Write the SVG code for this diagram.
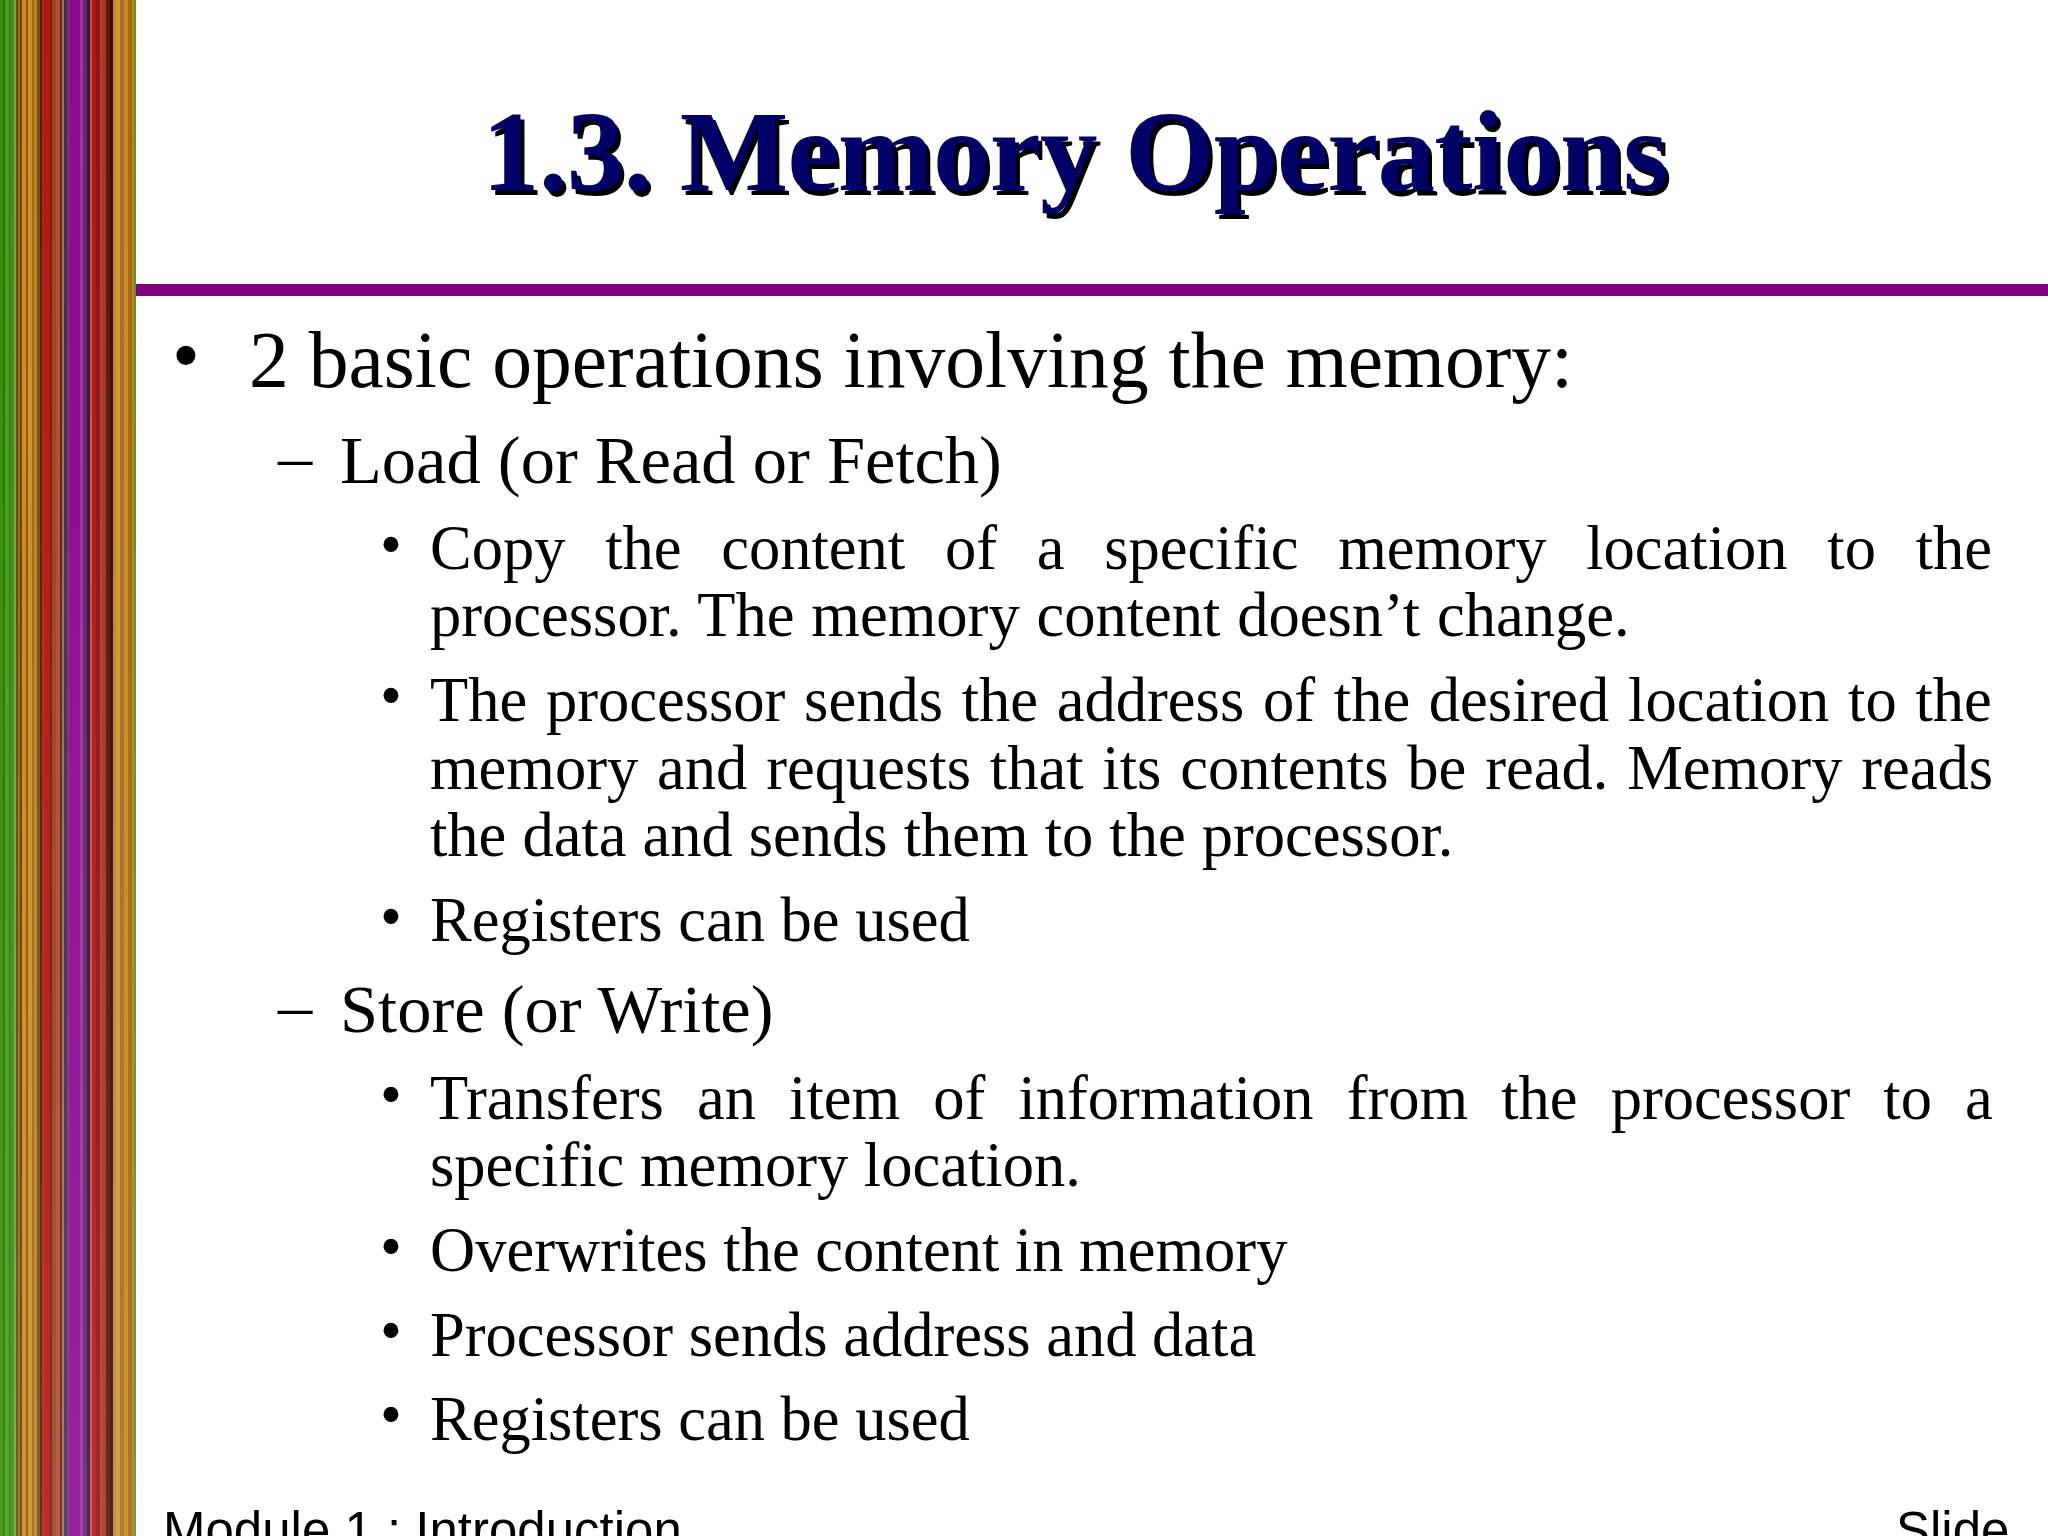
<svg xmlns="http://www.w3.org/2000/svg" width="2048" height="1536" viewBox="0 0 2048 1536">
<style>
text{font-family:"Liberation Serif","Times New Roman",serif;fill:#000}
.t{font-size:115px;font-weight:bold}
.l1{font-size:79.6px}.l2{font-size:68.5px}.l3{font-size:62.5px}
.f{font-family:"Liberation Sans",Arial,sans-serif;font-size:51px}
</style>
<defs>
<linearGradient id="fade" x1="0" x2="0" y1="0" y2="1"><stop offset="0" stop-color="#fff" stop-opacity="0"/><stop offset=".35" stop-color="#fff" stop-opacity=".02"/><stop offset="1" stop-color="#fff" stop-opacity=".09"/></linearGradient>
<filter id="soft" x="-5%" y="0" width="110%" height="100%"><feGaussianBlur stdDeviation=".6 0"/></filter>
<clipPath id="stripclip"><rect width="136" height="1536"/></clipPath>
</defs>
<rect width="2048" height="1536" fill="#fff"/>
<g id="strip-band" clip-path="url(#stripclip)">
<g filter="url(#soft)">
<rect x="-4" width="7" height="1536" fill="#3a8c10"/><rect x="3" width="2" height="1536" fill="#2f7010"/><rect x="5" width="4" height="1536" fill="#4aa018"/><rect x="9" width="1" height="1536" fill="#2a6a10"/><rect x="10" width="4" height="1536" fill="#3d8f18"/><rect x="14" width="2" height="1536" fill="#7aa040"/><rect x="16" width="2" height="1536" fill="#4a5a10"/><rect x="18" width="2" height="1536" fill="#a06a18"/><rect x="20" width="2" height="1536" fill="#6a3a10"/><rect x="22" width="4" height="1536" fill="#d08a20"/><rect x="26" width="2" height="1536" fill="#8a5a10"/><rect x="28" width="4" height="1536" fill="#d09028"/><rect x="32" width="2" height="1536" fill="#a06a18"/><rect x="34" width="3" height="1536" fill="#c08020"/><rect x="37" width="3" height="1536" fill="#804a20"/><rect x="40" width="2" height="1536" fill="#4a2010"/><rect x="42" width="2" height="1536" fill="#a03010"/><rect x="44" width="6" height="1536" fill="#b81414"/><rect x="50" width="2" height="1536" fill="#702010"/><rect x="52" width="4" height="1536" fill="#a04028"/><rect x="56" width="4" height="1536" fill="#b05030"/><rect x="60" width="2" height="1536" fill="#602818"/><rect x="62" width="2" height="1536" fill="#a07060"/><rect x="64" width="3" height="1536" fill="#502a50"/><rect x="67" width="3" height="1536" fill="#7a2a8a"/><rect x="70" width="10" height="1536" fill="#8a1090"/><rect x="80" width="3" height="1536" fill="#9a30a0"/><rect x="83" width="4" height="1536" fill="#5a2a70"/><rect x="87" width="3" height="1536" fill="#401040"/><rect x="90" width="2" height="1536" fill="#b06050"/><rect x="92" width="4" height="1536" fill="#b81818"/><rect x="96" width="4" height="1536" fill="#901818"/><rect x="100" width="2" height="1536" fill="#b83a30"/><rect x="102" width="4" height="1536" fill="#a03828"/><rect x="106" width="4" height="1536" fill="#601810"/><rect x="110" width="3" height="1536" fill="#3a1008"/><rect x="113" width="3" height="1536" fill="#c08a28"/><rect x="116" width="4" height="1536" fill="#d09a30"/><rect x="120" width="4" height="1536" fill="#a87020"/><rect x="124" width="4" height="1536" fill="#c88a20"/><rect x="128" width="4" height="1536" fill="#a06a18"/><rect x="132" width="2" height="1536" fill="#c08020"/><rect x="134" width="6" height="1536" fill="#5a9a18"/>
</g>
<rect width="136" height="1536" fill="url(#fade)"/>
</g>
<rect id="rule" x="136" y="284" width="1912" height="12" fill="#800080"/>
<g id="title">
<text class="t" x="486" y="195" textLength="1186">1.3. Memory Operations</text>
<text class="t" x="482" y="190" textLength="1186" style="fill:#000066">1.3. Memory Operations</text>
</g>
<g id="body">
<text class="l1" x="172" y="382">•</text><text class="l1" x="249" y="387">2 basic operations involving the memory:</text>
<text class="l2" x="278" y="479">–</text><text class="l2" x="340" y="483">Load (or Read or Fetch)</text>
<text class="l3" x="380" y="565">•</text><text class="l3" x="430" y="569" word-spacing="24.1">Copy the content of a specific memory location to the</text>
<text class="l3" x="430" y="636" word-spacing="1.2">processor. The memory content doesn’t change.</text>
<text class="l3" x="380" y="716">•</text><text class="l3" x="430" y="721" word-spacing="3.1">The processor sends the address of the desired location to the</text>
<text class="l3" x="430" y="789" word-spacing="3.2">memory and requests that its contents be read. Memory reads</text>
<text class="l3" x="430" y="856" word-spacing=".4">the data and sends them to the processor.</text>
<text class="l3" x="380" y="937">•</text><text class="l3" x="430" y="941">Registers can be used</text>
<text class="l2" x="278" y="1028">–</text><text class="l2" x="340" y="1032">Store (or Write)</text>
<text class="l3" x="380" y="1115">•</text><text class="l3" x="430" y="1119" word-spacing="17.5">Transfers an item of information from the processor to a</text>
<text class="l3" x="430" y="1186">specific memory location.</text>
<text class="l3" x="380" y="1267">•</text><text class="l3" x="430" y="1271">Overwrites the content in memory</text>
<text class="l3" x="380" y="1351">•</text><text class="l3" x="430" y="1356">Processor sends address and data</text>
<text class="l3" x="380" y="1435">•</text><text class="l3" x="430" y="1440">Registers can be used</text>
</g>
<g id="footer">
<text class="f" x="163" y="1548">Module 1 : Introduction</text>
<text class="f" x="1896" y="1548">Slide</text>
</g>
</svg>
